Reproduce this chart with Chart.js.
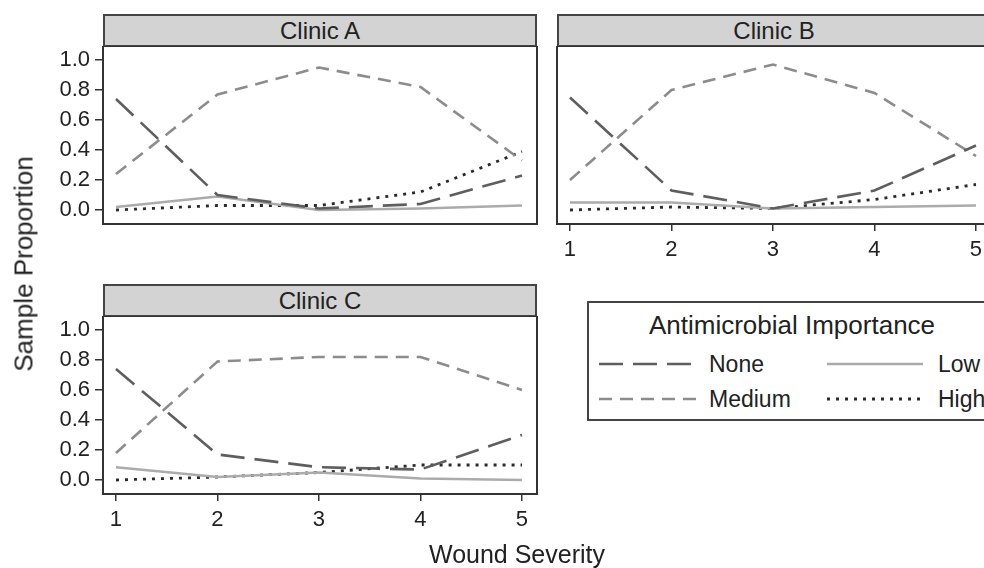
<!DOCTYPE html>
<html>
<head>
<meta charset="utf-8">
<script src="https://cdn.jsdelivr.net/npm/chart.js@4"></script>
<style>
  body { margin: 0; width: 984px; height: 568px; overflow: hidden; background: #fff;
         font-family: "Liberation Sans", Arial, sans-serif; color: #222; position: relative; }
  .panel { position: absolute; }
  .strip { position: absolute; box-sizing: border-box; height: 33px; width: 434px;
           background: #d3d3d3; border: 2px solid #444; text-align: center;
           font-size: 24px; line-height: 29px; }
  .legend { position: absolute; left: 587px; top: 301px; width: 420px; height: 120px;
            box-sizing: border-box; border: 2px solid #444; }
  .legend .title { position: absolute; left: 0; width: 406px; top: 7px; text-align: center; font-size: 26px; }
  .legend .item { position: absolute; font-size: 23px; }
  .legend canvas { position: absolute; }
  .ytitle { position: absolute; left: 24px; top: 264px; font-size: 26px; white-space: nowrap;
            transform: translate(-50%, -50%) rotate(-90deg); }
  .xtitle { position: absolute; left: 517px; top: 554px; font-size: 25px; white-space: nowrap;
            transform: translate(-50%, -50%); }
</style>
</head>
<body>
<div class="strip" style="left:103px; top:14px;">Clinic A</div>
<div class="strip" style="left:557px; top:14px;">Clinic B</div>
<div class="strip" style="left:103px; top:284px;">Clinic C</div>

<div class="panel" style="left:0px; top:46px;"><canvas id="chartA" width="540" height="180"></canvas></div>
<div class="panel" style="left:540px; top:46px;"><canvas id="chartB" width="460" height="226"></canvas></div>
<div class="panel" style="left:0px; top:316px;"><canvas id="chartC" width="540" height="226"></canvas></div>

<div class="ytitle">Sample Proportion</div>
<div class="xtitle">Wound Severity</div>

<div class="legend">
  <div class="title">Antimicrobial Importance</div>
  <canvas id="legNone" width="98" height="8" style="left:10px; top:57px;"></canvas>
  <div class="item" style="left:120px; top:48px;">None</div>
  <canvas id="legLow" width="96" height="8" style="left:238px; top:57px;"></canvas>
  <div class="item" style="left:349px; top:48px;">Low</div>
  <canvas id="legMedium" width="98" height="8" style="left:10px; top:92px;"></canvas>
  <div class="item" style="left:120px; top:83px;">Medium</div>
  <canvas id="legHigh" width="96" height="8" style="left:238px; top:92px;"></canvas>
  <div class="item" style="left:349px; top:83px;">High</div>
</div>

<script>
// x: wound severity, y: sample proportion
const severity = [1, 2, 3, 4, 5];
const yTicks = [0, 0.2, 0.4, 0.6, 0.8, 1.0];

const clinicANone   = [0.74, 0.10, 0.01, 0.04, 0.23];
const clinicAMedium = [0.24, 0.77, 0.95, 0.82, 0.33];
const clinicALow    = [0.02, 0.09, 0.00, 0.01, 0.03];
const clinicAHigh   = [0.00, 0.03, 0.03, 0.12, 0.39];

const clinicBNone   = [0.75, 0.13, 0.01, 0.13, 0.43];
const clinicBMedium = [0.20, 0.80, 0.97, 0.78, 0.36];
const clinicBLow    = [0.05, 0.05, 0.01, 0.02, 0.03];
const clinicBHigh   = [0.00, 0.02, 0.01, 0.07, 0.17];

const clinicCNone   = [0.74, 0.17, 0.085, 0.07, 0.30];
const clinicCMedium = [0.18, 0.79, 0.82, 0.82, 0.60];
const clinicCLow    = [0.085, 0.02, 0.05, 0.01, 0.00];
const clinicCHigh   = [0.00, 0.02, 0.05, 0.10, 0.10];

const seriesStyle = {
  None:   { color: '#5e5e5e', dash: [24, 10], width: 2.6 },
  Medium: { color: '#8c8c8c', dash: [13, 8], width: 2.6 },
  Low:    { color: '#ababab', dash: [], width: 2.4 },
  High:   { color: '#2a2a2a', dash: [3, 6], width: 2.8 }
};

const tickFont = { family: '"Liberation Sans", Arial, sans-serif', size: 22 };

function toPoints(values) {
  return values.map((v, i) => ({ x: severity[i], y: v }));
}

function makeDataset(name, values) {
  const s = seriesStyle[name];
  return {
    label: name,
    data: toPoints(values),
    borderColor: s.color,
    borderDash: s.dash,
    borderWidth: s.width,
    borderCapStyle: 'butt',
    pointRadius: 0,
    tension: 0,
    fill: false
  };
}

// draws the full frame round the plot area
const boxPlugin = {
  id: 'box',
  afterDraw(chart) {
    const a = chart.chartArea;
    const ctx = chart.ctx;
    ctx.save();
    ctx.strokeStyle = '#333';
    ctx.lineWidth = 2;
    ctx.strokeRect(a.left, a.top, a.right - a.left, a.bottom - a.top);
    ctx.restore();
  }
};

function buildChart(id, sets, showY, showX, padding) {
  const ctx = document.getElementById(id);
  return new Chart(ctx, {
    type: 'line',
    data: {
      datasets: [
        makeDataset('None', sets[0]),
        makeDataset('Medium', sets[1]),
        makeDataset('Low', sets[2]),
        makeDataset('High', sets[3])
      ]
    },
    options: {
      responsive: false,
      animation: false,
      devicePixelRatio: 1,
      layout: { padding: padding },
      plugins: { legend: { display: false }, tooltip: { enabled: false } },
      scales: {
        x: {
          type: 'linear',
          min: 0.872,
          max: 5.148,
          display: showX,
          afterBuildTicks: (scale) => { scale.ticks = severity.map(v => ({ value: v })); },
          afterFit: (scale) => {
            if (showX) scale.height = 48;
            scale.paddingLeft = 0;
            scale.paddingRight = 0;
          },
          grid: { drawOnChartArea: false, drawTicks: true, tickLength: 7, color: '#333', lineWidth: 1.5 },
          border: { display: false },
          ticks: { font: tickFont, color: '#222', padding: 6, maxRotation: 0, autoSkip: false,
                   callback: (v) => String(v) }
        },
        y: {
          type: 'linear',
          min: -0.0933,
          max: 1.0933,
          display: showY,
          afterBuildTicks: (scale) => { scale.ticks = yTicks.map(v => ({ value: v })); },
          afterFit: (scale) => {
            if (showY) scale.width = 103;
            scale.paddingTop = 0;
            scale.paddingBottom = 0;
          },
          grid: { drawOnChartArea: false, drawTicks: true, tickLength: 8, color: '#333', lineWidth: 1.5 },
          border: { display: false },
          ticks: { font: tickFont, color: '#222', padding: 5, autoSkip: false,
                   callback: (v) => v.toFixed(1) }
        }
      }
    },
    plugins: [boxPlugin]
  });
}

buildChart('chartA', [clinicANone, clinicAMedium, clinicALow, clinicAHigh], true, false,
  { left: 0, right: 3, top: 0, bottom: 2 });
buildChart('chartB', [clinicBNone, clinicBMedium, clinicBLow, clinicBHigh], false, true,
  { left: 17, right: 9, top: 0, bottom: 0 });
buildChart('chartC', [clinicCNone, clinicCMedium, clinicCLow, clinicCHigh], true, true,
  { left: 0, right: 3, top: 0, bottom: 0 });

// legend keys
function drawKey(id, name) {
  const c = document.getElementById(id);
  const g = c.getContext('2d');
  const s = seriesStyle[name];
  g.strokeStyle = s.color;
  g.lineWidth = s.width;
  g.setLineDash(s.dash);
  g.beginPath();
  g.moveTo(0, 4);
  g.lineTo(c.width, 4);
  g.stroke();
}
drawKey('legNone', 'None');
drawKey('legMedium', 'Medium');
drawKey('legLow', 'Low');
drawKey('legHigh', 'High');
</script>
</body>
</html>
